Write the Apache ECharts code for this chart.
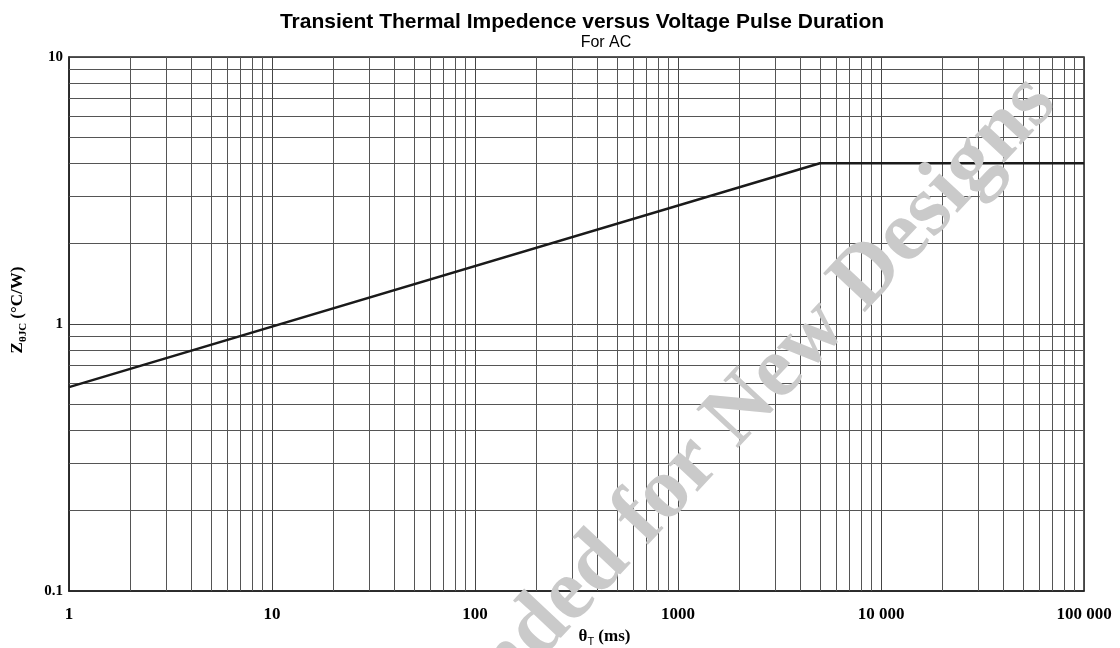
<!DOCTYPE html>
<html>
<head>
<meta charset="utf-8">
<script src="https://cdn.jsdelivr.net/npm/echarts@6/dist/echarts.min.js"></script>
<style>
  html, body { margin: 0; padding: 0; background: #fff; }
  #chart { width: 1120px; height: 648px; }
</style>
</head>
<body>
<div id="chart"></div>
<script>
// axis ticks
var xTicks = [1, 10, 100, 1000, 10000, 100000];
var xTickLabels = ['1', '10', '100', '1000', '10 000', '100 000'];
var yTicks = [0.1, 1, 10];
var yTickLabels = ['0.1', '1', '10'];
var minorSteps = [2, 3, 4, 5, 6, 7, 8, 9];

// curve
var pulseMs = [1, 5000, 100000];
var zthJC = [0.58, 4, 4];

var serif = '"Liberation Serif", "Times New Roman", serif';
var sans = '"Liberation Sans", Arial, sans-serif';

function tickLabel(ticks, labels) {
    return function (v) {
        for (var i = 0; i < ticks.length; i++) {
            if (Math.abs(Math.log10(v) - Math.log10(ticks[i])) < 1e-6) return labels[i];
        }
        return '';
    };
}

// minor grid lines at 2..9 of each decade
var minorLines = [];
xTicks.slice(0, -1).forEach(function (d) {
    minorSteps.forEach(function (k) { minorLines.push({ xAxis: d * k }); });
});
yTicks.slice(0, -1).forEach(function (d) {
    minorSteps.forEach(function (k) { minorLines.push({ yAxis: d * k }); });
});

var chart = echarts.init(document.getElementById('chart'));
chart.setOption({
    animation: false,
    title: [
        {
            text: 'Transient Thermal Impedence versus Voltage Pulse Duration',
            left: 577, top: 7, textAlign: 'center',
            textStyle: { fontFamily: sans, fontWeight: 'bold', fontSize: 21, color: '#000' }
        },
        {
            text: 'For AC',
            left: 601, top: 30, textAlign: 'center',
            textStyle: { fontFamily: sans, fontWeight: 'normal', fontSize: 16, color: '#000' }
        }
    ],
    grid: {
        left: 69, right: 36, top: 57, bottom: 57,
        outerBoundsMode: 'none', containLabel: false,
        show: true, borderColor: '#222', borderWidth: 1.5, backgroundColor: 'transparent'
    },
    xAxis: {
        type: 'log', logBase: 10, min: 1, max: 100000,
        axisLine: { show: true, lineStyle: { color: '#222', width: 1.5 } },
        axisTick: { show: false },
        splitLine: { show: true, lineStyle: { color: '#444', width: 1 } },
        axisLabel: {
            formatter: tickLabel(xTicks, xTickLabels), margin: 15,
            fontFamily: serif, fontWeight: 'bold', fontSize: 17, color: '#000'
        },
        name: '{b|θ}{s|T}{b| (ms)}',
        nameLocation: 'middle', nameGap: 34,
        nameTextStyle: {
            padding: [0, 0, 0, 56],
            rich: {
                b: { fontFamily: serif, fontWeight: 'bold', fontSize: 17, color: '#000', lineHeight: 22 },
                s: { fontFamily: sans, fontSize: 11, color: '#000', lineHeight: 12, verticalAlign: 'bottom' }
            }
        }
    },
    yAxis: {
        type: 'log', logBase: 10, min: 0.1, max: 10,
        axisLine: { show: true, lineStyle: { color: '#222', width: 1.5 } },
        axisTick: { show: false },
        splitLine: { show: true, lineStyle: { color: '#444', width: 1 } },
        axisLabel: {
            formatter: tickLabel(yTicks, yTickLabels), margin: 6,
            fontFamily: serif, fontWeight: 'bold', fontSize: 15, color: '#000'
        },
        name: '{b|Z}{s|θJC}{b| (°C/W)}',
        nameLocation: 'middle', nameGap: 40,
        nameTextStyle: {
            padding: [0, 0, 0, 28],
            rich: {
                b: { fontFamily: serif, fontWeight: 'bold', fontSize: 17, color: '#000', lineHeight: 22 },
                s: { fontFamily: serif, fontWeight: 'bold', fontSize: 11, color: '#000', lineHeight: 12, verticalAlign: 'bottom' }
            }
        }
    },
    series: [
        {
            type: 'line',
            data: pulseMs.map(function (x, i) { return [x, zthJC[i]]; }),
            showSymbol: false, symbol: 'none',
            lineStyle: { color: '#1a1a1a', width: 2.5 },
            z: 5,
            silent: true,
            markLine: {
                silent: true,
                symbol: ['none', 'none'],
                label: { show: false },
                emphasis: { disabled: true },
                lineStyle: { color: '#555', width: 1, type: 'solid' },
                data: minorLines,
                z: 1
            }
        }
    ],
    graphic: [
        {
            type: 'text', x: 587, y: 577, rotation: 47 * Math.PI / 180, silent: true, z: 100,
            style: {
                text: 'Not Recommended for New Designs',
                font: 'bold 87px ' + serif,
                fill: '#cacaca', align: 'center', verticalAlign: 'middle'
            }
        }
    ]
});
</script>
</body>
</html>
